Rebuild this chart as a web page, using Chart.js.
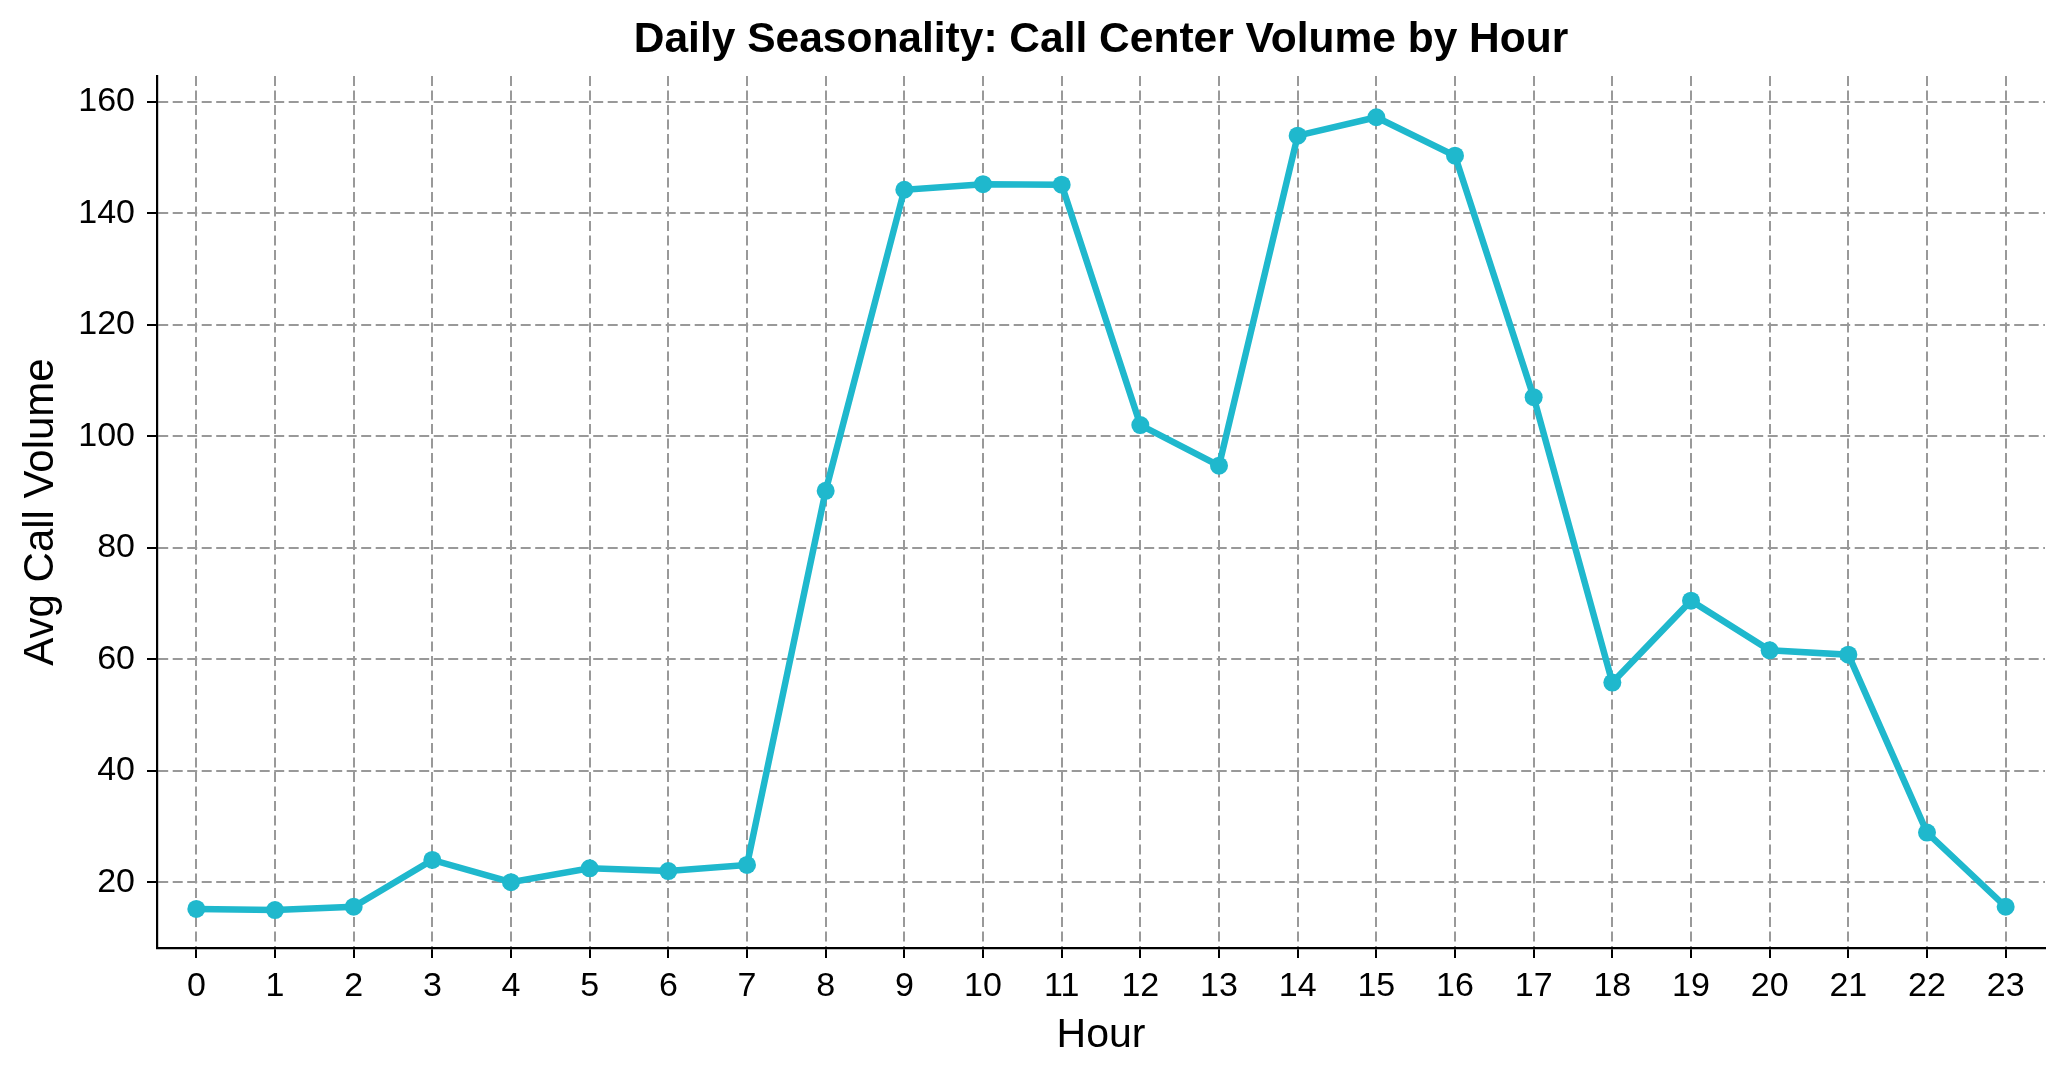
<!DOCTYPE html>
<html>
<head>
<meta charset="utf-8">
<script src="https://cdn.jsdelivr.net/npm/chart.js@4/dist/chart.umd.min.js"></script>
<style>
  html, body { margin: 0; padding: 0; background: #fff; }
  #wrap { width: 2069px; height: 1080px; position: relative; }
</style>
</head>
<body>
<div id="wrap"><canvas id="c" width="2069" height="1080"></canvas></div>
<script>
const chartTitle = "Daily Seasonality: Call Center Volume by Hour";
const xAxisTitle = "Hour";
const yAxisTitle = "Avg Call Volume";
const hours = [0,1,2,3,4,5,6,7,8,9,10,11,12,13,14,15,16,17,18,19,20,21,22,23];
const callVolume = [15.2,15.0,15.6,24.0,20.0,22.5,22.0,23.1,90.2,144.2,145.2,145.1,102.0,94.7,153.9,157.2,150.3,107.0,55.8,70.5,61.6,60.8,28.9,15.6];
const yTicks = [20,40,60,80,100,120,140,160];

const FONT = '"Liberation Sans", Arial, Helvetica, sans-serif';
const LINE_COLOR = '#1fb8cd';

const titlesPlugin = {
  id: 'titles',
  afterDraw(chart) {
    const ctx = chart.ctx;
    const ca = chart.chartArea;
    ctx.save();
    ctx.fillStyle = '#000';
    ctx.textAlign = 'center';
    ctx.textBaseline = 'alphabetic';
    ctx.font = 'bold 42.5px ' + FONT;
    ctx.fillText(chartTitle, (ca.left + ca.right) / 2, 52);
    ctx.font = '41px ' + FONT;
    ctx.textBaseline = 'middle';
    ctx.fillText(xAxisTitle, (ca.left + ca.right) / 2, 1036);
    ctx.font = '42px ' + FONT;
    ctx.translate(41, (ca.top + ca.bottom) / 2);
    ctx.rotate(-Math.PI / 2);
    ctx.fillText(yAxisTitle, 0, 0);
    ctx.restore();
  }
};

const gridOpts = {
  color: '#999999',
  lineWidth: 2,
  drawTicks: true,
  tickLength: 10,
  tickColor: '#000',
  tickWidth: 2,
  tickBorderDash: []
};
const borderOpts = { display: true, color: '#000', width: 2.2, dash: [10, 4.5] };

new Chart(document.getElementById('c'), {
  type: 'line',
  data: {
    datasets: [{
      data: hours.map((h, i) => ({ x: h, y: callVolume[i] })),
      borderColor: LINE_COLOR,
      backgroundColor: LINE_COLOR,
      borderWidth: 6.5,
      pointRadius: 9,
      pointHoverRadius: 9,
      pointBorderWidth: 0,
      pointBackgroundColor: LINE_COLOR,
      tension: 0,
      fill: false
    }]
  },
  options: {
    responsive: false,
    animation: false,
    devicePixelRatio: 1,
    layout: { padding: { top: 76, right: 24, left: 0, bottom: 0 } },
    plugins: { legend: { display: false }, title: { display: false }, tooltip: { enabled: false } },
    scales: {
      x: {
        type: 'linear',
        min: -0.5,
        max: 23.5,
        afterBuildTicks(scale) { scale.ticks = hours.map(v => ({ value: v })); },
        afterFit(scale) { scale.height = 132; },
        border: borderOpts,
        grid: gridOpts,
        ticks: {
          autoSkip: false,
          maxRotation: 0,
          padding: 8,
          color: '#000',
          font: { family: FONT, size: 34 },
          callback: (v) => String(v)
        }
      },
      y: {
        type: 'linear',
        min: 8.2,
        max: 164.6,
        afterBuildTicks(scale) { scale.ticks = yTicks.map(v => ({ value: v })); },
        afterFit(scale) { scale.width = 157; },
        border: borderOpts,
        grid: gridOpts,
        ticks: {
          autoSkip: false,
          padding: 12,
          color: '#000',
          font: { family: FONT, size: 34 },
          callback: (v) => String(v)
        }
      }
    }
  },
  plugins: [titlesPlugin]
});
</script>
</body>
</html>
